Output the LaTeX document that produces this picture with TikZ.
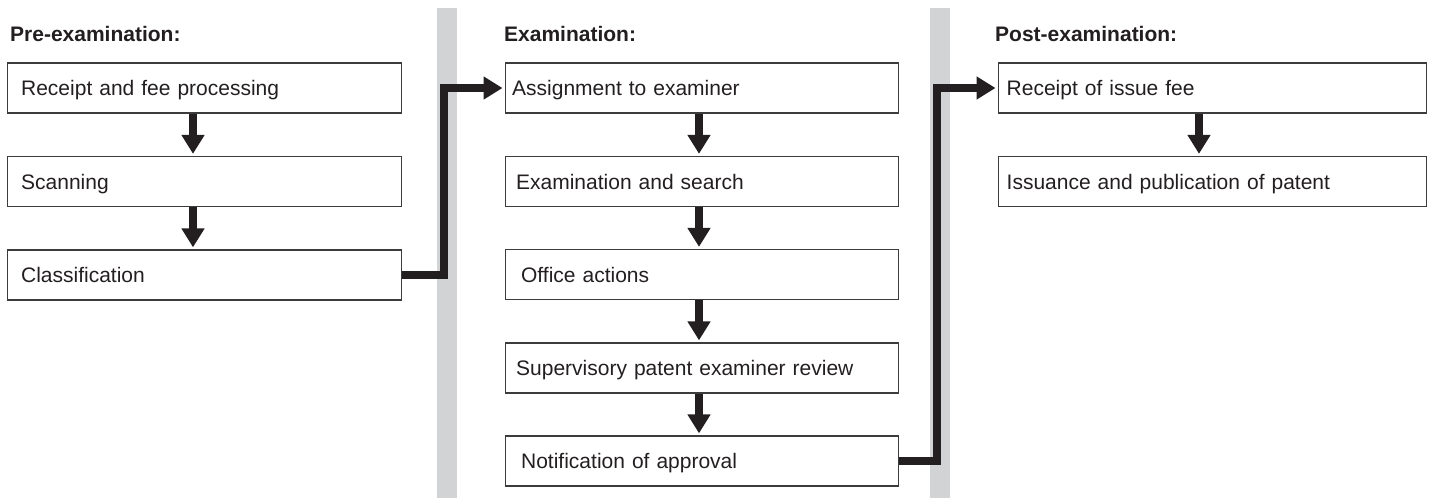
\documentclass[tikz,border=0pt]{standalone}
\usepackage{fontspec}
\setmainfont{Liberation Sans}
\usetikzlibrary{arrows.meta}
\definecolor{barg}{HTML}{D1D3D4}
\definecolor{ink}{HTML}{231F20}
\definecolor{edgec}{HTML}{3C3C3C}
\newcommand{\ins}[1]{\hspace*{#1pt}}
\begin{document}
\begin{tikzpicture}[x=1pt,y=-1pt,
  stepbox/.style={draw=edgec,line width=1.3pt,anchor=west,text width=#1,inner xsep=0pt,inner ysep=0pt,
    minimum height=50pt,text height=15pt,text depth=0pt,align=left,
    font=\fontsize{21}{25}\selectfont,text=ink},
  head/.style={anchor=base west,inner sep=0pt,font=\bfseries\fontsize{21}{25}\selectfont,text=ink},
  flow/.style={draw=ink,line width=8pt,-{Triangle[width=22pt,length=19pt]}},
]
\useasboundingbox (0,0) rectangle (1432,498);
% grey separators
\fill[barg] (437,8) rectangle (457,498);
\fill[barg] (930,8) rectangle (950,498);
% headings
\node[head] (h1) at (10,41) {Pre-examination:};
\node[head] (h2) at (504,41) {Examination:};
\node[head] (h3) at (995,41) {Post-examination:};
% pre-examination
\node[stepbox=394pt] (p1) at (7,88) {\ins{13.5}Receipt and fee processing};
\node[stepbox=394pt] (p2) at (7,181.5) {\ins{13.5}Scanning};
\node[stepbox=394pt] (p3) at (7,275) {\ins{13.5}Classification};
% examination
\node[stepbox=393pt] (e1) at (505,88) {\ins{6.5}Assignment to examiner};
\node[stepbox=393pt] (e2) at (505,181.5) {\ins{10.5}Examination and search};
\node[stepbox=393pt] (e3) at (505,274.5) {\ins{15.5}Office actions};
\node[stepbox=393pt] (e4) at (505,368) {\ins{10.5}Supervisory patent examiner review};
\node[stepbox=393pt] (e5) at (505,461) {\ins{15.5}Notification of approval};
% post-examination
\node[stepbox=428pt] (r1) at (998,88) {\ins{8}Receipt of issue fee};
\node[stepbox=428pt] (r2) at (998,181.5) {\ins{8}Issuance and publication of patent};
% guide coordinates
\coordinate (xl) at (193,0);
\coordinate (xm) at (699,0);
\coordinate (xr) at (1199,0);
\coordinate (xa) at (444,0);
\coordinate (xb) at (937,0);
% arrows
\draw[flow,shorten >=2pt] (p1.south -| xl) -- (p2.north -| xl);
\draw[flow,shorten >=2pt] (p2.south -| xl) -- (p3.north -| xl);
\draw[flow,shorten >=2pt] (e1.south -| xm) -- (e2.north -| xm);
\draw[flow,shorten >=2pt] (e2.south -| xm) -- (e3.north -| xm);
\draw[flow,shorten >=2pt] (e3.south -| xm) -- (e4.north -| xm);
\draw[flow,shorten >=2pt] (e4.south -| xm) -- (e5.north -| xm);
\draw[flow,shorten >=2pt] (r1.south -| xr) -- (r2.north -| xr);
\draw[flow,shorten >=2.5pt] (p3.east) -- (xa |- p3.east) |- (e1.west);
\draw[flow,shorten >=2.5pt] (e5.east) -- (xb |- e5.east) |- (r1.west);
\end{tikzpicture}
\end{document}
